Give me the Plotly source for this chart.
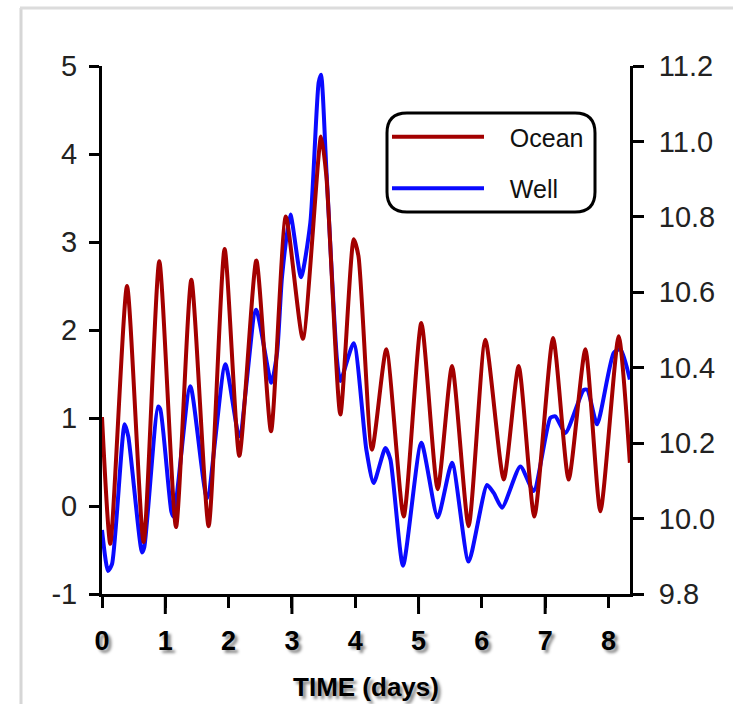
import plotly.graph_objects as go

# Ocean tide level (left axis), days since start of record
ocean_days = [0.0, 0.131, 0.395, 0.657, 0.905, 1.169, 1.411, 1.684, 1.937, 2.169,
              2.438, 2.670, 2.904, 3.172, 3.460, 3.544, 3.765, 3.975, 4.051, 4.265,
              4.491, 4.765, 5.044, 5.302, 5.529, 5.791, 6.055, 6.346, 6.581, 6.829,
              7.125, 7.371, 7.635, 7.872, 8.161, 8.338]
ocean_level = [1.01, -0.43, 2.50, -0.41, 2.78, -0.24, 2.57, -0.23, 2.92, 0.57,
               2.79, 0.85, 3.29, 1.90, 4.20, 3.75, 1.04, 3.03, 2.84, 0.64,
               1.78, -0.12, 2.08, 0.19, 1.59, -0.23, 1.89, 0.30, 1.59, -0.12,
               1.91, 0.30, 1.78, -0.06, 1.93, 0.49]

# Well water level (right axis)
well_days = [0.0, 0.095, 0.158, 0.357, 0.415, 0.632, 0.668, 0.885, 0.921, 1.095,
             1.131, 1.395, 1.659, 1.948, 2.169, 2.433, 2.675, 2.765, 2.844, 2.975,
             3.144, 3.291, 3.422, 3.460, 3.544, 3.712, 3.765, 3.975, 4.175, 4.291,
             4.476, 4.555, 4.755, 5.044, 5.302, 5.529, 5.791, 6.082, 6.187, 6.319,
             6.608, 6.818, 7.082, 7.161, 7.319, 7.608, 7.667, 7.820, 8.082, 8.188,
             8.338]
well_level = [9.970, 9.861, 9.879, 10.250, 10.218, 9.910, 9.924, 10.297, 10.290, 10.019,
              10.005, 10.351, 10.054, 10.409, 10.218, 10.554, 10.360, 10.439, 10.642, 10.806,
              10.640, 10.785, 11.156, 11.177, 10.925, 10.421, 10.365, 10.465, 10.183, 10.094,
              10.187, 10.157, 9.875, 10.201, 10.003, 10.148, 9.886, 10.089, 10.068, 10.029,
              10.138, 10.073, 10.267, 10.271, 10.227, 10.341, 10.341, 10.250, 10.439, 10.449,
              10.369]

day_ticks = [0, 1, 2, 3, 4, 5, 6, 7, 8]
long_tick_days = [1, 3, 5, 7]
left_ticks = [-1, 0, 1, 2, 3, 4, 5]
left_tick_text = ["-1", "0", "1", "2", "3", "4", "5"]
right_ticks = [9.8, 10.0, 10.2, 10.4, 10.6, 10.8, 11.0, 11.2]
right_tick_text = ["9.8", "10.0", "10.2", "10.4", "10.6", "10.8", "11.0", "11.2"]

FONT = "Liberation Sans, Arial, Helvetica, sans-serif"
SHADOW = "3px 3px 3px rgba(0,0,0,0.45)"
W, H = 733, 704
ML, MR, MT, MB = 102, 103, 66, 110
PW, PH = W - ML - MR, H - MT - MB

fig = go.Figure()
fig.add_trace(go.Scatter(
    x=ocean_days, y=ocean_level, name="\u00a0\u00a0\u00a0Ocean", mode="lines",
    line=dict(color="#a30000", width=4, shape="spline", smoothing=0.6),
    yaxis="y2", legendgroup="ocean",
))
fig.add_trace(go.Scatter(
    x=well_days, y=well_level, name="\u00a0\u00a0\u00a0Well", mode="lines",
    line=dict(color="#0a0aff", width=4, shape="spline", smoothing=0.6),
    yaxis="y", legendgroup="well",
))


def px_x(x):
    return (x - ML) / PW


def px_y(y):
    return (H - MB - y) / PH


# rounded frame around the legend
x0, x1 = px_x(387), px_x(595)
yt, yb = px_y(113), px_y(212)
r = 20 / PW
legend_path = (
    f"M {x0 + r},{yt} L {x1 - r},{yt} Q {x1},{yt} {x1},{yt - r} "
    f"L {x1},{yb + r} Q {x1},{yb} {x1 - r},{yb} L {x0 + r},{yb} "
    f"Q {x0},{yb} {x0},{yb + r} L {x0},{yt - r} Q {x0},{yt} {x0 + r},{yt} Z"
)
shapes = [dict(type="path", path=legend_path, xref="paper", yref="paper",
               line=dict(color="black", width=3), fillcolor="rgba(0,0,0,0)",
               layer="above")]

# longer ticks on odd days
for d in long_tick_days:
    shapes.append(dict(type="line", xref="x", yref="paper", x0=d, x1=d,
                       y0=-1.5 / PH, y1=-20 / PH, line=dict(color="black", width=3)))

# light page frame on the left and top
shapes.append(dict(type="line", xref="paper", yref="paper",
                   x0=px_x(21), x1=px_x(21), y0=px_y(8), y1=px_y(710),
                   line=dict(color="#d6d6d6", width=3)))
shapes.append(dict(type="line", xref="paper", yref="paper",
                   x0=px_x(20), x1=px_x(740), y0=px_y(8), y1=px_y(8),
                   line=dict(color="#dcdcdc", width=3)))

fig.update_layout(
    width=W, height=H,
    margin=dict(l=ML, r=MR, t=MT, b=MB, autoexpand=False),
    paper_bgcolor="white", plot_bgcolor="white",
    font=dict(family=FONT, size=25, color="#222"),
    showlegend=True,
    legend=dict(x=px_x(387), y=px_y(114), xanchor="left", yanchor="top",
                bgcolor="rgba(0,0,0,0)", borderwidth=0, itemwidth=92,
                font=dict(family=FONT, size=25, color="#111"),
                tracegroupgap=16, traceorder="grouped"),
    shapes=shapes,
    xaxis=dict(
        range=[0, 8.34], tickmode="array", tickvals=day_ticks, automargin=False,
        ticks="outside", ticklen=11, tickwidth=3, tickcolor="black",
        showline=True, linewidth=3, linecolor="black",
        showgrid=False, zeroline=False, ticklabelstandoff=10,
        tickfont=dict(family=FONT, size=27, color="black", weight="bold", shadow=SHADOW),
        title=dict(text="TIME (days)", standoff=23,
                   font=dict(family=FONT, size=26, color="black", weight="bold", shadow=SHADOW)),
    ),
    yaxis=dict(
        range=[9.8, 11.2], side="right", tickmode="array", automargin=False,
        tickvals=right_ticks, ticktext=right_tick_text,
        ticks="outside", ticklen=11, tickwidth=3, tickcolor="black",
        showline=True, linewidth=3, linecolor="black",
        showgrid=False, zeroline=False, ticklabelstandoff=9,
        tickfont=dict(family=FONT, size=29, color="#222"),
    ),
    yaxis2=dict(
        range=[-1, 5], side="left", overlaying="y", tickmode="array", automargin=False,
        tickvals=left_ticks, ticktext=left_tick_text,
        ticks="outside", ticklen=10, tickwidth=3,
        tickcolor="black", showline=True, linewidth=3, linecolor="black",
        showgrid=False, zeroline=False, ticklabelstandoff=6,
        tickfont=dict(family=FONT, size=29, color="#222"),
    ),
)

fig.write_html("out.html")
